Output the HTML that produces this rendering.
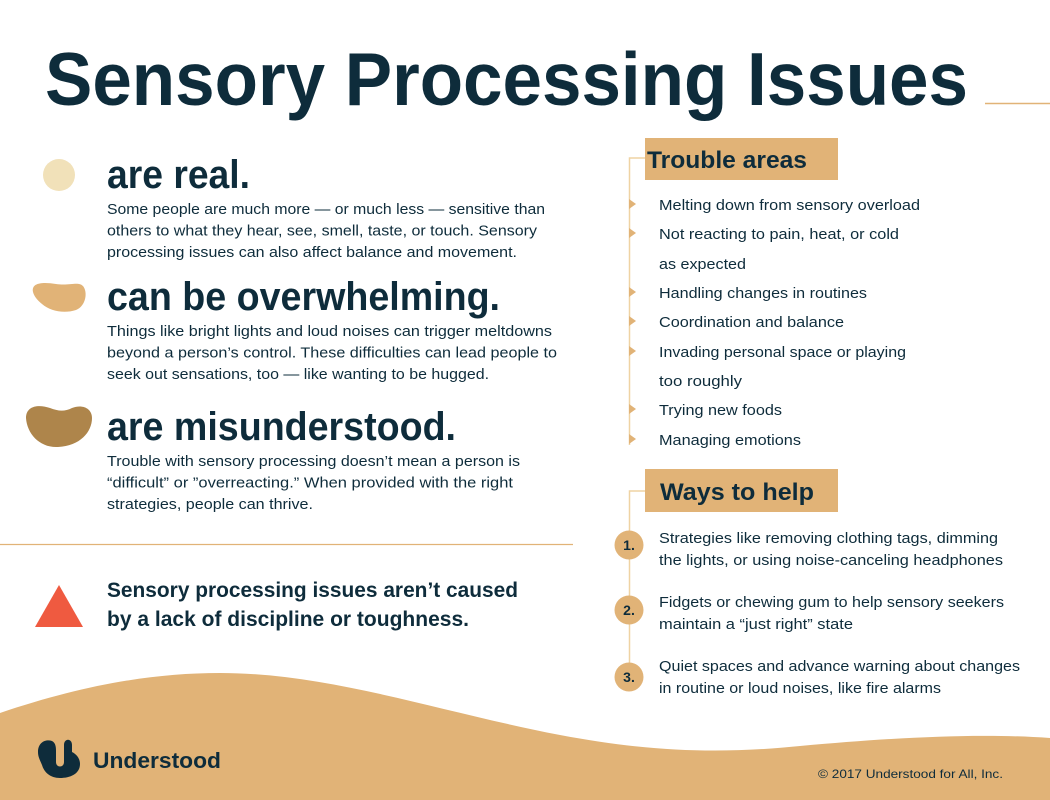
<!DOCTYPE html>
<html><head><meta charset="utf-8"><style>
html,body{margin:0;padding:0;background:#fff;}
svg{display:block;}
text{font-family:"Liberation Sans",sans-serif;fill:#0e2c3b;}
.b{font-weight:bold;}
</style></head><body>
<svg width="1050" height="800" viewBox="0 0 1050 800" xmlns="http://www.w3.org/2000/svg">
<rect width="1050" height="800" fill="#fff"/>
<path d="M0,713 C80,686 150,673 220,673 C330,673 440,712 560,735 C650,752 720,754 800,746 C900,737 980,733 1050,738 L1050,800 L0,800 Z" fill="#e1b377"/>
<text class="b" x="45" y="105" font-size="75" textLength="923" lengthAdjust="spacingAndGlyphs">Sensory Processing Issues</text>
<line x1="985" y1="103.5" x2="1050" y2="103.5" stroke="#e1b377" stroke-width="1.5"/>

<circle cx="59" cy="175" r="16" fill="#f1e1b9"/>
<path d="M33,292 C31,282 44,282 56,284 C70,286 78,281 83,286 C88,292 86,306 76,310 C64,314 50,311 42,304 C37,300 34,296 33,292 Z" fill="#e1b377"/>
<path d="M26,418 C26,406 38,404 50,408 C58,411 64,412 72,408 C82,404 92,408 92,418 C92,432 80,446 58,447 C40,448 27,434 26,418 Z" fill="#ae854b"/>

<text class="b" x="107" y="188" font-size="40" textLength="143" lengthAdjust="spacingAndGlyphs">are real.</text>
<text x="107" y="214" font-size="15" textLength="438" lengthAdjust="spacingAndGlyphs">Some people are much more — or much less — sensitive than</text>
<text x="107" y="235.5" font-size="15" textLength="430" lengthAdjust="spacingAndGlyphs">others to what they hear, see, smell, taste, or touch. Sensory</text>
<text x="107" y="257" font-size="15" textLength="410" lengthAdjust="spacingAndGlyphs">processing issues can also affect balance and movement.</text>

<text class="b" x="107" y="310" font-size="40" textLength="393" lengthAdjust="spacingAndGlyphs">can be overwhelming.</text>
<text x="107" y="336" font-size="15" textLength="445" lengthAdjust="spacingAndGlyphs">Things like bright lights and loud noises can trigger meltdowns</text>
<text x="107" y="357.5" font-size="15" textLength="450" lengthAdjust="spacingAndGlyphs">beyond a person’s control. These difficulties can lead people to</text>
<text x="107" y="379" font-size="15" textLength="382" lengthAdjust="spacingAndGlyphs">seek out sensations, too — like wanting to be hugged.</text>

<text class="b" x="107" y="440" font-size="40" textLength="349" lengthAdjust="spacingAndGlyphs">are misunderstood.</text>
<text x="107" y="466" font-size="15" textLength="413" lengthAdjust="spacingAndGlyphs">Trouble with sensory processing doesn’t mean a person is</text>
<text x="107" y="487.5" font-size="15" textLength="406" lengthAdjust="spacingAndGlyphs">“difficult” or ”overreacting.” When provided with the right</text>
<text x="107" y="509" font-size="15" textLength="206" lengthAdjust="spacingAndGlyphs">strategies, people can thrive.</text>

<line x1="0" y1="544.5" x2="573" y2="544.5" stroke="#e1b377" stroke-width="1.2"/>
<polygon points="59,585 83,627 35,627" fill="#ef5a40"/>
<text class="b" x="107" y="597" font-size="21" textLength="411" lengthAdjust="spacingAndGlyphs">Sensory processing issues aren’t caused</text>
<text class="b" x="107" y="626" font-size="21" textLength="362" lengthAdjust="spacingAndGlyphs">by a lack of discipline or toughness.</text>

<polyline points="645,158 629.5,158 629.5,445" fill="none" stroke="#efd3a3" stroke-width="1.5"/>
<rect x="645" y="138" width="193" height="42" fill="#e1b377"/>
<text class="b" x="647" y="168" font-size="24" textLength="160" lengthAdjust="spacingAndGlyphs">Trouble areas</text>
<g fill="#e1b377">
<polygon points="629,199 636,204 629,209"/>
<polygon points="629,228 636,233 629,238"/>
<polygon points="629,287 636,292 629,297"/>
<polygon points="629,316 636,321 629,326"/>
<polygon points="629,346 636,351 629,356"/>
<polygon points="629,404 636,409 629,414"/>
<polygon points="629,434 636,439 629,444"/>
</g>
<g font-size="15">
<text x="659" y="210" textLength="261" lengthAdjust="spacingAndGlyphs">Melting down from sensory overload</text>
<text x="659" y="239" textLength="240" lengthAdjust="spacingAndGlyphs">Not reacting to pain, heat, or cold</text>
<text x="659" y="269" textLength="87" lengthAdjust="spacingAndGlyphs">as expected</text>
<text x="659" y="298" textLength="208" lengthAdjust="spacingAndGlyphs">Handling changes in routines</text>
<text x="659" y="327" textLength="185" lengthAdjust="spacingAndGlyphs">Coordination and balance</text>
<text x="659" y="357" textLength="247" lengthAdjust="spacingAndGlyphs">Invading personal space or playing</text>
<text x="659" y="386" textLength="83" lengthAdjust="spacingAndGlyphs">too roughly</text>
<text x="659" y="415" textLength="123" lengthAdjust="spacingAndGlyphs">Trying new foods</text>
<text x="659" y="445" textLength="142" lengthAdjust="spacingAndGlyphs">Managing emotions</text>
</g>

<polyline points="645,491 629.5,491 629.5,677" fill="none" stroke="#efd3a3" stroke-width="1.5"/>
<rect x="645" y="469" width="193" height="43" fill="#e1b377"/>
<text class="b" x="660" y="500" font-size="24" textLength="154" lengthAdjust="spacingAndGlyphs">Ways to help</text>
<g fill="#e1b377">
<circle cx="629" cy="545" r="14.5"/>
<circle cx="629" cy="610" r="14.5"/>
<circle cx="629" cy="677" r="14.5"/>
</g>
<g font-size="14" text-anchor="middle" font-weight="bold">
<text x="629" y="550">1.</text>
<text x="629" y="615">2.</text>
<text x="629" y="682">3.</text>
</g>
<g font-size="15">
<text x="659" y="543" textLength="339" lengthAdjust="spacingAndGlyphs">Strategies like removing clothing tags, dimming</text>
<text x="659" y="565" textLength="344" lengthAdjust="spacingAndGlyphs">the lights, or using noise-canceling headphones</text>
<text x="659" y="607" textLength="345" lengthAdjust="spacingAndGlyphs">Fidgets or chewing gum to help sensory seekers</text>
<text x="659" y="629" textLength="194" lengthAdjust="spacingAndGlyphs">maintain a “just right” state</text>
<text x="659" y="671" textLength="361" lengthAdjust="spacingAndGlyphs">Quiet spaces and advance warning about changes</text>
<text x="659" y="693" textLength="282" lengthAdjust="spacingAndGlyphs">in routine or loud noises, like fire alarms</text>
</g>

<path d="M38,752 C38,742 46,739 52,741 C56,743 56,748 56,752 L56,762 C56,768 64,768 64,762 L64,745 C64,738 72,738 72,745 L72,752 C76,754 80,758 80,764 C80,774 70,778 60,778 C50,778 44,772 42,765 C40,760 38,757 38,752 Z" fill="#0e2c3b"/>
<text class="b" x="93" y="768" font-size="22" textLength="128" lengthAdjust="spacingAndGlyphs">Understood</text>
<text x="818" y="778" font-size="12" textLength="185" lengthAdjust="spacingAndGlyphs">© 2017 Understood for All, Inc.</text>
</svg>
</body></html>
